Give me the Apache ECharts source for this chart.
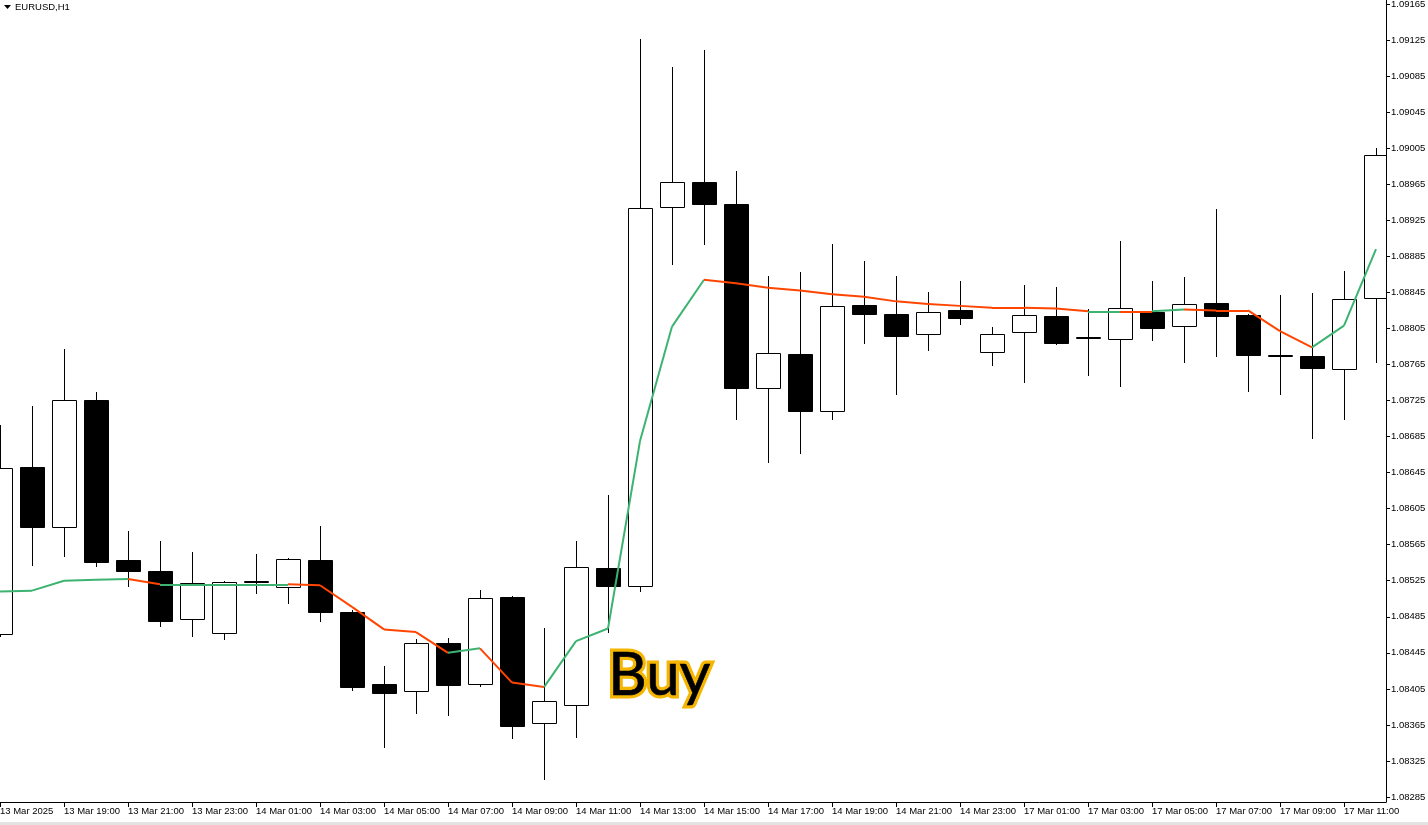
<!DOCTYPE html>
<html><head><meta charset="utf-8">
<script src="https://cdn.jsdelivr.net/npm/echarts@6/dist/echarts.min.js"></script>
<style>html,body{margin:0;padding:0;background:#fff;overflow:hidden}#c{width:1428px;height:825px}</style>
</head><body><div id="c"></div>
<script>
// ---- data (EURUSD H1, 13 Mar 17:00 .. 17 Mar 12:00) ----
const candleTimes = ['13 Mar 17:00','13 Mar 18:00','13 Mar 19:00','13 Mar 20:00','13 Mar 21:00','13 Mar 22:00','13 Mar 23:00',
  '14 Mar 00:00','14 Mar 01:00','14 Mar 02:00','14 Mar 03:00','14 Mar 04:00','14 Mar 05:00','14 Mar 06:00','14 Mar 07:00',
  '14 Mar 08:00','14 Mar 09:00','14 Mar 10:00','14 Mar 11:00','14 Mar 12:00','14 Mar 13:00','14 Mar 14:00','14 Mar 15:00',
  '14 Mar 16:00','14 Mar 17:00','14 Mar 18:00','14 Mar 19:00','14 Mar 20:00','14 Mar 21:00','14 Mar 22:00','14 Mar 23:00',
  '17 Mar 00:00','17 Mar 01:00','17 Mar 02:00','17 Mar 03:00','17 Mar 04:00','17 Mar 05:00','17 Mar 06:00','17 Mar 07:00',
  '17 Mar 08:00','17 Mar 09:00','17 Mar 10:00','17 Mar 11:00','17 Mar 12:00'];
const opens  = [1.08466,1.08651,1.08585,1.08726,1.08548,1.08536,1.08483,1.08467,1.08525,1.08518,1.08548,1.08490,1.08410,1.08403,1.08456,
  1.08410,1.08507,1.08367,1.08387,1.08539,1.08519,1.08940,1.08967,1.08943,1.08739,1.08777,1.08713,1.08831,1.08821,1.08799,
  1.08825,1.08779,1.08801,1.08819,1.08796,1.08793,1.08823,1.08808,1.08833,1.08820,1.08776,1.08774,1.08760,1.08839];
const closes = [1.08650,1.08585,1.08726,1.08546,1.08536,1.08480,1.08523,1.08524,1.08525,1.08549,1.08490,1.08407,1.08400,1.08456,1.08409,
  1.08506,1.08364,1.08392,1.08540,1.08519,1.08939,1.08967,1.08943,1.08739,1.08778,1.08713,1.08830,1.08821,1.08797,1.08823,
  1.08816,1.08799,1.08820,1.08789,1.08796,1.08828,1.08806,1.08832,1.08819,1.08776,1.08776,1.08761,1.08838,1.08997];
const highs  = [1.08698,1.08719,1.08782,1.08734,1.08580,1.08569,1.08557,1.08525,1.08555,1.08550,1.08586,1.08493,1.08430,1.08460,1.08461,
  1.08515,1.08508,1.08473,1.08569,1.08620,1.09126,1.09095,1.09114,1.08980,1.08863,1.08868,1.08899,1.08880,1.08863,1.08845,
  1.08858,1.08807,1.08853,1.08851,1.08827,1.08902,1.08858,1.08862,1.08938,1.08821,1.08842,1.08844,1.08869,1.09005];
const lows   = [1.08464,1.08542,1.08552,1.08541,1.08519,1.08475,1.08464,1.08460,1.08511,1.08500,1.08480,1.08404,1.08341,1.08378,1.08376,
  1.08408,1.08350,1.08305,1.08352,1.08468,1.08514,1.08876,1.08899,1.08704,1.08657,1.08667,1.08705,1.08789,1.08732,1.08781,
  1.08810,1.08764,1.08746,1.08788,1.08753,1.08741,1.08792,1.08768,1.08774,1.08736,1.08732,1.08683,1.08705,1.08768];
const maValues = [1.08513,1.08514,1.08525,1.08526,1.08527,1.08521,1.08521,1.08521,1.08521,1.08521,1.08520,1.08496,1.08471,1.08468,1.08445,
  1.08450,1.08412,1.08407,1.08458,1.08472,1.08680,1.08807,1.08859,1.08855,1.08850,1.08847,1.08843,1.08840,1.08835,1.08832,
  1.08830,1.08828,1.08828,1.08827,1.08824,1.08824,1.08824,1.08826,1.08825,1.08825,1.08802,1.08784,1.08808,1.08893];
// trend of the segment ending at each point: 1 = rising (green), -1 = falling (red)
const maTrend = [1,1,1,1,1,-1,1,1,1,1,-1,-1,-1,-1,-1,1,-1,-1,1,1,1,1,1,-1,-1,-1,-1,-1,-1,-1,-1,-1,-1,-1,-1,1,-1,1,-1,-1,-1,-1,1,1];
const xLabelIndex = [0,2,4,6,8,10,12,14,16,18,20,22,24,26,28,30,32,34,36,38,40,42];
const xLabels = ['13 Mar 2025','13 Mar 19:00','13 Mar 21:00','13 Mar 23:00','14 Mar 01:00','14 Mar 03:00','14 Mar 05:00',
  '14 Mar 07:00','14 Mar 09:00','14 Mar 11:00','14 Mar 13:00','14 Mar 15:00','14 Mar 17:00','14 Mar 19:00','14 Mar 21:00',
  '14 Mar 23:00','17 Mar 01:00','17 Mar 03:00','17 Mar 05:00','17 Mar 07:00','17 Mar 09:00','17 Mar 11:00'];
const yTicks = [1.08285,1.08325,1.08365,1.08405,1.08445,1.08485,1.08525,1.08565,1.08605,1.08645,1.08685,1.08725,
  1.08765,1.08805,1.08845,1.08885,1.08925,1.08965,1.09005,1.09045,1.09085,1.09125,1.09165];
const symbolTitle = 'EURUSD,H1';
const signalText = 'Buy';

// ---- chart ----
const GREEN = '#3cb371', RED = '#ff4500';
const FONT = 'Liberation Sans';
const candleData = opens.map((o, i) => [i, o, closes[i], lows[i], highs[i]]);
const maSegments = [];
for (let i = 1; i < maValues.length; i++) {
  maSegments.push({
    coords: [[i - 1, maValues[i - 1]], [i, maValues[i]]],
    lineStyle: { color: maTrend[i] > 0 ? GREEN : RED }
  });
}

const chart = echarts.init(document.getElementById('c'), null, { renderer: 'canvas' });
chart.setOption({
  animation: false,
  backgroundColor: '#ffffff',
  grid: { left: 0, right: 42, top: 0, bottom: 23, containLabel: false, outerBoundsMode: 'none' },
  xAxis: {
    type: 'value', min: 0, max: 43.3125,
    axisLine: { show: true, onZero: false, lineStyle: { color: '#000', width: 1 } },
    axisTick: { show: true, inside: false, length: 5, customValues: xLabelIndex, lineStyle: { color: '#000' } },
    axisLabel: {
      show: true, customValues: xLabelIndex, align: 'left', margin: 4,
      color: '#000', fontFamily: FONT, fontSize: 9.5, hideOverlap: false,
      formatter: v => xLabels[xLabelIndex.indexOf(Math.round(v))] || ''
    },
    splitLine: { show: false }
  },
  yAxis: {
    type: 'value', position: 'right', min: 1.082795, max: 1.091694, scale: true,
    axisLine: { show: true, onZero: false, lineStyle: { color: '#000', width: 1 } },
    axisTick: { show: true, inside: false, length: 4, customValues: yTicks, lineStyle: { color: '#000' } },
    axisLabel: {
      show: true, customValues: yTicks, margin: 5, color: '#000', fontFamily: FONT, fontSize: 9.5,
      hideOverlap: false, formatter: v => Number(v).toFixed(5)
    },
    splitLine: { show: false }
  },
  series: [
    {
      type: 'custom', name: 'EURUSD', clip: true, z: 2,
      data: candleData,
      encode: { x: 0, y: [1, 2, 3, 4] },
      renderItem: function (params, api) {
        const i = api.value(0), o = api.value(1), c = api.value(2), l = api.value(3), h = api.value(4);
        const pO = api.coord([i, o]), pC = api.coord([i, c]), pL = api.coord([i, l]), pH = api.coord([i, h]);
        const cx = Math.round(pO[0]) + 0.5;
        const top = Math.round(Math.min(pO[1], pC[1])) + 0.5;
        let bot = Math.round(Math.max(pO[1], pC[1])) + 0.5;
        if (bot - top < 1) bot = top + 1;
        const bull = c >= o;
        return {
          type: 'group',
          children: [
            { type: 'line', shape: { x1: cx, y1: Math.round(pH[1]), x2: cx, y2: Math.round(pL[1]) + 1 },
              style: { stroke: '#000', lineWidth: 1 } },
            { type: 'rect', shape: { x: cx - 12, y: top, width: 24, height: bot - top },
              style: { fill: bull ? '#fff' : '#000', stroke: '#000', lineWidth: 1 } }
          ]
        };
      }
    },
    {
      type: 'lines', name: 'MA', coordinateSystem: 'cartesian2d', z: 5,
      polyline: false, silent: true,
      lineStyle: { width: 2, opacity: 1 },
      data: maSegments
    }
  ],
  graphic: [
    { type: 'polygon', shape: { points: [[4, 5], [11, 5], [7.5, 9]] }, style: { fill: '#000' } },
    { type: 'text', x: 15, y: 7, style: { text: symbolTitle, font: '9.5px "Liberation Sans"', fill: '#000', verticalAlign: 'middle', align: 'left' } },
    { type: 'text', x: 608, y: 676, z: 10,
      style: { text: signalText, font: '60px Lato', fill: '#f3b300', stroke: '#f6b500', lineWidth: 7, lineJoin: 'round',
               verticalAlign: 'middle', align: 'left', shadowBlur: 10, shadowColor: 'rgba(245,175,0,0.85)' } },
    { type: 'text', x: 608, y: 676, z: 11,
      style: { text: signalText, font: '60px Lato', fill: '#000', stroke: '#000', lineWidth: 0.6,
               verticalAlign: 'middle', align: 'left' } },
    { type: 'rect', shape: { x: 0, y: 822, width: 1428, height: 3 }, style: { fill: '#e3e3e3' } }
  ]
});
</script>
</body></html>
